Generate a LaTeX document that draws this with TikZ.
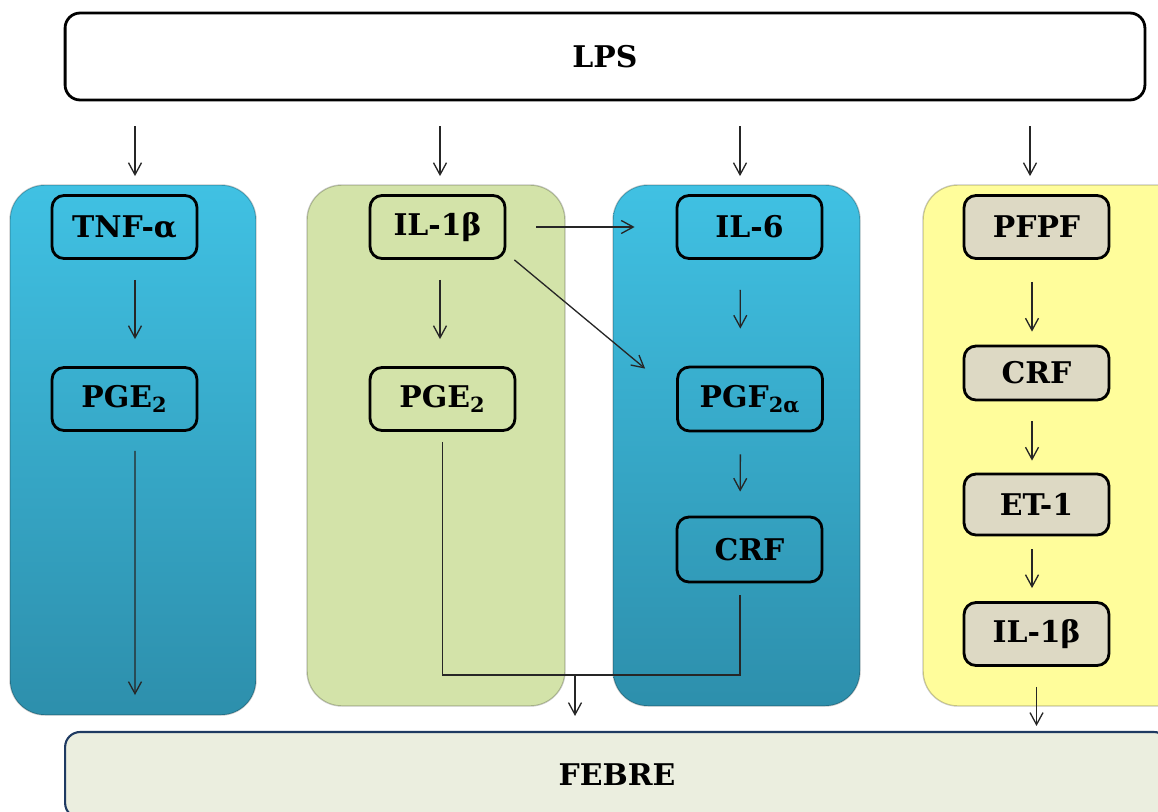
\documentclass[tikz,border=0pt]{standalone}
\usepackage{fontspec}
\setmainfont{DejaVu Serif}
\usepackage{tikz}
\usetikzlibrary{arrows.meta}
\definecolor{bluetop}{HTML}{40C1E3}
\definecolor{bluebot}{HTML}{2D8FAC}
\definecolor{greenbg}{HTML}{D3E3A9}
\definecolor{yellowbg}{HTML}{FFFD9B}
\definecolor{beige}{HTML}{DDD9C4}
\definecolor{febrebg}{HTML}{EBEEDF}
\definecolor{navy}{HTML}{1F3A62}
\tikzset{>/.tip={Straight Barb[length=2.4mm,width=2.6mm]},
  agent/.style={draw, line width=1.6pt, rounded corners=0.24cm, minimum width=2.9cm,
    minimum height=1.26cm, inner sep=0pt, font=\fontsize{17}{20}\selectfont\bfseries},
  link/.style={->, draw=black!85, line width=0.75pt},
  panel/.style={rounded corners=0.7cm, draw=black, draw opacity=0.22, line width=0.8pt}}
\newcommand{\sbs}[1]{\textsubscript{#1}}

\begin{document}
\begin{tikzpicture}[x=0.02cm, y=-0.02cm]
\clip (0,0) rectangle (1158,811);
\path[panel, top color=bluetop, bottom color=bluebot] (10,185) rectangle (256,715);
\path[panel, fill=greenbg] (307,185) rectangle (565,706);
\path[panel, top color=bluetop, bottom color=bluebot] (613,185) rectangle (860,706);
\path[panel, fill=yellowbg] (923,185) rectangle (1200,706);

\node[agent, fill=white, rounded corners=0.3cm, minimum width=21.6cm, minimum height=1.74cm] (lps) at (605,56.5) {LPS};
\node[agent, draw=navy, line width=1.2pt, fill=febrebg, rounded corners=0.3cm, minimum width=22.08cm, minimum height=1.72cm] (febre) at (617,775) {FEBRE};

\node[agent] (tnf) at (124.5,227) {TNF-α};
\node[agent] (pgea) at (124.5,399) {PGE\sbs{2}};
\node[agent, minimum width=2.7cm] (ilb) at (437.5,227) {IL-1β};
\node[agent] (pgeb) at (442.5,399) {PGE\sbs{2}};
\node[agent] (il) at (749.5,227) {IL-6};
\node[agent, minimum height=1.28cm] (pgf) at (750,399) {PGF\sbs{2α}};
\node[agent, minimum height=1.3cm] (crfa) at (749.5,549.5) {CRF};
\node[agent, fill=beige] (pfpf) at (1036.5,227) {PFPF};
\node[agent, fill=beige, minimum height=1.08cm] (crfb) at (1036.5,373) {CRF};
\node[agent, fill=beige, minimum height=1.22cm] (et) at (1036.5,504.5) {ET-1};
\node[agent, fill=beige] (ilc) at (1036.5,634) {IL-1β};
\coordinate (enda) at (135,695);
\coordinate (merge) at (575,675);

\draw[link, shorten <=0.5cm, shorten >=0.36cm] ([xshift=0.21cm]tnf.north |- lps.south) -- ([xshift=0.21cm]tnf.north);
\draw[link, shorten <=0.5cm, shorten >=0.36cm] ([xshift=0.05cm]ilb.north |- lps.south) -- ([xshift=0.05cm]ilb.north);
\draw[link, shorten <=0.5cm, shorten >=0.36cm] ([xshift=-0.19cm]il.north |- lps.south) -- ([xshift=-0.19cm]il.north);
\draw[link, shorten <=0.5cm, shorten >=0.36cm] ([xshift=-0.13cm]pfpf.north |- lps.south) -- ([xshift=-0.13cm]pfpf.north);

\draw[link, shorten <=0.4cm, shorten >=0.54cm] ([xshift=0.21cm]tnf.south) -- ([xshift=0.21cm]pgea.north);
\draw[link, shorten <=0.38cm] ([xshift=0.21cm]pgea.south) -- (enda);
\draw[link, shorten <=0.4cm, shorten >=0.54cm] ([xshift=0.05cm]ilb.south) -- ([xshift=0.05cm]ilb.south |- pgeb.north);
\draw[link, shorten <=0.6cm, shorten >=0.82cm] (ilb.east) -- (il.west);
\draw[link] ([xshift=0.16cm]ilb.south east) -- ([xshift=-0.62cm,yshift=-0.06cm]pgf.north west);
\draw[link, shorten <=0.6cm, shorten >=0.74cm] ([xshift=-0.19cm]il.south) -- ([xshift=-0.19cm]pgf.north);
\draw[link, shorten <=0.44cm, shorten >=0.48cm] ([xshift=-0.19cm]pgf.south) -- ([xshift=-0.19cm]crfa.north);
\draw[link, -] ([yshift=-0.2cm]pgeb.south) |- ([xshift=-0.19cm]crfa.south |- merge) -- ([xshift=-0.19cm,yshift=-0.24cm]crfa.south);
\draw[link, shorten >=0.3cm] (merge) -- (merge |- febre.north);

\draw[link, shorten <=0.44cm, shorten >=0.26cm] ([xshift=-0.09cm]pfpf.south) -- ([xshift=-0.09cm]crfb.north);
\draw[link, shorten <=0.4cm, shorten >=0.24cm] ([xshift=-0.09cm]crfb.south) -- ([xshift=-0.09cm]et.north);
\draw[link, shorten <=0.26cm, shorten >=0.26cm] ([xshift=-0.09cm]et.south) -- ([xshift=-0.09cm]ilc.north);
\draw[link, shorten <=0.4cm, shorten >=0.1cm] (ilc.south) -- (febre.north -| ilc.south);
\end{tikzpicture}
\end{document}
